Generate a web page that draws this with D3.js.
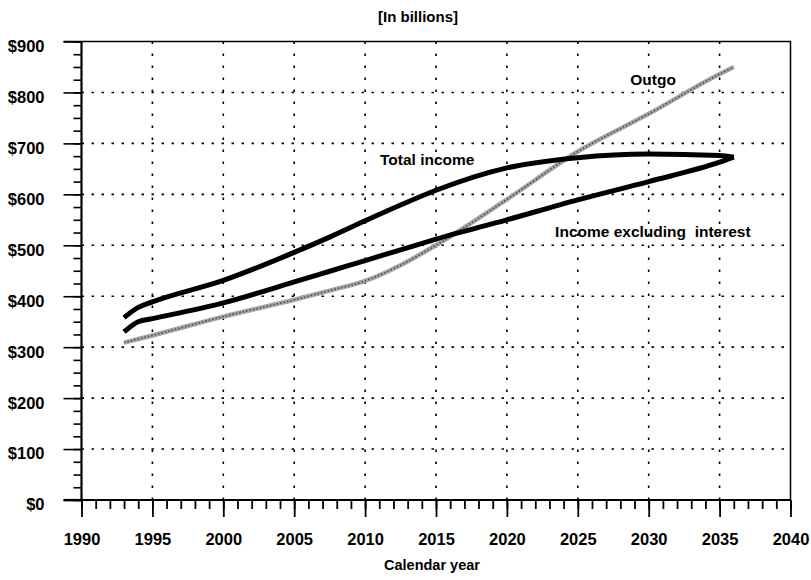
<!DOCTYPE html>
<html>
<head>
<meta charset="utf-8">
<script src="https://cdn.jsdelivr.net/npm/d3@7"></script>
<style>
    body { margin: 0; background: #fff; }
    text { font-family: "Liberation Sans", Arial, sans-serif; font-weight: bold; fill: #000; }
</style>
</head>
<body>
<div id="chart"></div>
<script>
// values, in billions of dollars
const years = [1993, 1994, 1995, 2000, 2005, 2007.5, 2010, 2012.5, 2015, 2020, 2025, 2030, 2035, 2036]
const totalIncome = [358, 378, 389, 431, 486, 516, 548, 579, 608, 652, 672, 679, 676, 673]
const incomeExclInterest = [330, 350, 356, 387, 428, 449, 470, 491, 512, 550, 589, 625, 663, 673]
const outgo = [309, 316, 323, 360, 393, 411, 430, 461, 500, 590, 684, 758, 836, 850]

const xTicks = [1990, 1995, 2000, 2005, 2010, 2015, 2020, 2025, 2030, 2035, 2040]
const yTicks = [0, 100, 200, 300, 400, 500, 600, 700, 800, 900]

const seriesLabels = [
    { name: "Total income", year: 2011.05, value: 657 },
    { name: "Income excluding  interest", year: 2023.4, value: 516 },
    { name: "Outgo", year: 2028.7, value: 815 }
]

const width = 811, height = 580

const x = d3.scaleLinear().domain([1990, 2040]).range([81.5, 790.5])
const y = d3.scaleLinear().domain([0, 900]).range([500, 41.5])

const svg = d3.select("#chart")
    .append("svg")
    .attr("width", width)
    .attr("height", height)

// title and axis title
svg.append("text")
    .text("[In billions]")
    .attr("x", 418)
    .attr("y", 22)
    .attr("text-anchor", "middle")
    .attr("font-size", "15px")

svg.append("text")
    .text("Calendar year")
    .attr("x", 432)
    .attr("y", 570)
    .attr("text-anchor", "middle")
    .attr("font-size", "14.5px")

// dotted grid
svg.append("g")
    .selectAll("line")
    .data(yTicks.slice(1, -1))
    .enter()
    .append("line")
    .attr("x1", x(1990))
    .attr("x2", x(2040))
    .attr("y1", d => y(d))
    .attr("y2", d => y(d))
    .attr("stroke", "#000")
    .attr("stroke-width", 1.6)
    .attr("stroke-dasharray", "2.5,7.5")

svg.append("g")
    .selectAll("line")
    .data(xTicks.slice(1, -1))
    .enter()
    .append("line")
    .attr("x1", d => x(d))
    .attr("x2", d => x(d))
    .attr("y1", y(900))
    .attr("y2", y(0))
    .attr("stroke", "#000")
    .attr("stroke-width", 1.6)
    .attr("stroke-dasharray", "2.5,9.5")

// y axis: ticks point left, minor every $25
const yAxis = svg.append("g").attr("transform", `translate(${x(1990)},0)`)
yAxis.append("g")
    .call(d3.axisLeft(y).tickValues(d3.range(0, 901, 25)).tickSize(8).tickFormat(""))
    .call(g => g.select(".domain").remove())
yAxis.append("g")
    .call(d3.axisLeft(y).tickValues(yTicks).tickSize(18).tickPadding(20).tickFormat(d => "$" + d))
    .call(g => g.select(".domain").remove())
yAxis.selectAll("line").attr("stroke-width", 1.6)
yAxis.selectAll("text")
    .attr("font-size", "16.5px")
    .attr("dy", "0.6em")
    .attr("x", -37)
    .attr("font-family", "Liberation Sans, Arial, sans-serif")
    .attr("font-weight", "bold")

// x axis: ticks point down, minor every year
const xAxis = svg.append("g").attr("transform", `translate(0,${y(0)})`)
xAxis.append("g")
    .call(d3.axisBottom(x).tickValues(d3.range(1990, 2041, 1)).tickSize(9).tickFormat(""))
    .call(g => g.select(".domain").remove())
xAxis.append("g")
    .call(d3.axisBottom(x).tickValues(xTicks).tickSize(17).tickPadding(16).tickFormat(d3.format("d")))
    .call(g => g.select(".domain").remove())
xAxis.selectAll("line").attr("stroke-width", 1.8)
xAxis.selectAll("text")
    .attr("font-size", "16.5px")
    .attr("font-family", "Liberation Sans, Arial, sans-serif")
    .attr("font-weight", "bold")

// frame
svg.append("path")
    .attr("d", `M${x(1990) - 18},${y(900)}H${x(2040)}V${y(0)}`)
    .attr("fill", "none")
    .attr("stroke", "#000")
    .attr("stroke-width", 1.5)
svg.append("path")
    .attr("d", `M${x(1990)},${y(900)}V${y(0)}H${x(2040)}`)
    .attr("fill", "none")
    .attr("stroke", "#000")
    .attr("stroke-width", 2.2)
svg.append("line")
    .attr("x1", x(1990) - 18).attr("x2", x(1990))
    .attr("y1", y(0)).attr("y2", y(0))
    .attr("stroke", "#000").attr("stroke-width", 2.2)

// series
const line = d3.line()
    .x(d => x(d[0]))
    .y(d => y(d[1]))
    .curve(d3.curveMonotoneX)

const pairs = vals => years.map((yr, i) => [yr, vals[i]])

// outgo: grey stippled band
svg.append("path")
    .datum(pairs(outgo))
    .attr("d", line)
    .attr("fill", "none")
    .attr("stroke", "#a6a6a6")
    .attr("stroke-width", 4.5)
svg.append("path")
    .datum(pairs(outgo))
    .attr("d", line)
    .attr("fill", "none")
    .attr("stroke", "#4a4a4a")
    .attr("stroke-width", 1.6)
    .attr("stroke-dasharray", "1.5,2")

svg.selectAll(".income")
    .data([totalIncome, incomeExclInterest])
    .enter()
    .append("path")
    .attr("class", "income")
    .attr("d", d => line(pairs(d)))
    .attr("fill", "none")
    .attr("stroke", "#000")
    .attr("stroke-width", 5)
    .attr("stroke-linejoin", "round")

// line labels
svg.selectAll(".lbl")
    .data(seriesLabels)
    .enter()
    .append("text")
    .attr("class", "lbl")
    .attr("x", d => x(d.year))
    .attr("y", d => y(d.value))
    .attr("font-size", "15.5px")
    .style("white-space", "pre")
    .text(d => d.name)
</script>
</body>
</html>
